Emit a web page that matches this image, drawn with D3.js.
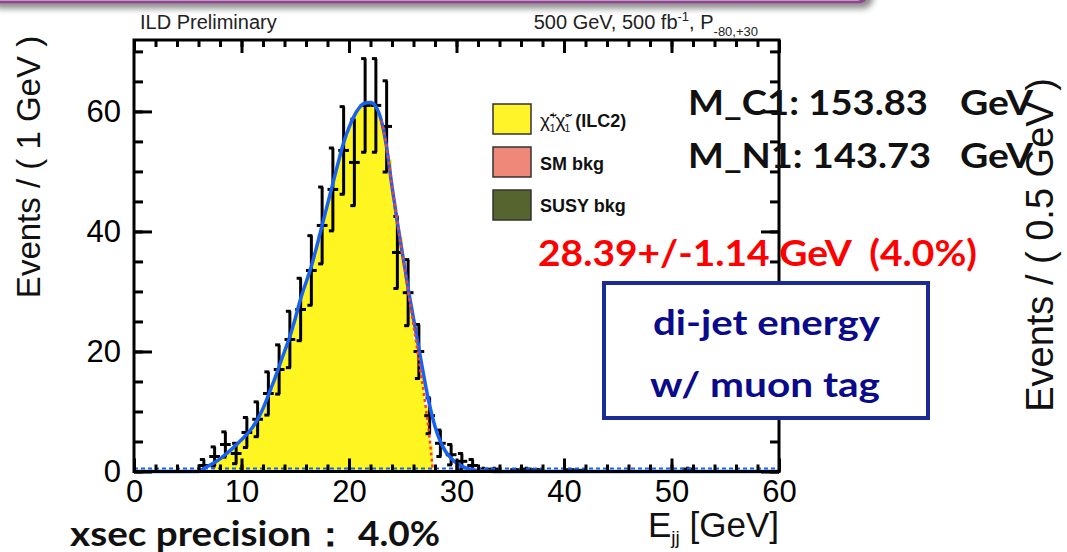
<!DOCTYPE html>
<html><head><meta charset="utf-8">
<script src="https://cdn.jsdelivr.net/npm/d3@7"></script>
<style>
html,body{margin:0;padding:0;background:#fff;}
svg{display:block;}
.tick text{font-family:"Liberation Sans",Arial,sans-serif;}
text{white-space:pre;}
</style></head>
<body>
<svg id="c" width="1067" height="552"></svg>
<script>
// ---------------- data ----------------
const xTicksMajor = [0, 10, 20, 30, 40, 50, 60];
const yTicksMajor = [0, 20, 40, 60];

// data points (1 GeV bins, centres)
const dataE   = [6.5, 7.5, 8.5, 9.5, 10.5, 11.5, 12.5, 13.5, 14.5, 15.5, 16.5, 17.5, 18.5, 19.5, 20.5, 21.5, 22.5, 23.5, 24.5, 25.5, 26.5, 27.5, 28.5, 29.5, 30.5, 31.5, 32.5, 33.5, 35.5, 36.5, 37.5, 40.5, 41.5, 51.5];
const dataN   = [1.0, 2.5, 4.5, 3.0, 6.5, 8.7, 13.0, 17.0, 22.0, 27.0, 33.5, 41.0, 47.0, 53.5, 51.5, 61.0, 61.0, 57.5, 36.5, 29.8, 20.0, 9.3, 4.7, 2.8, 1.7, 1.0, 0.4, 0.4, 0.3, 0.4, 0.3, 0.3, 0.2, 0.4];
const dataErr = [1.0, 1.6, 2.1, 1.7, 2.5, 2.9, 3.6, 4.1, 4.7, 5.2, 5.8, 6.4, 6.9, 7.3, 7.2, 7.8, 7.8, 7.6, 6.0, 5.5, 4.5, 3.0, 2.2, 1.7, 1.3, 1.0, 0.4, 0.4, 0.3, 0.4, 0.3, 0.3, 0.2, 0.4];

// signal MC histogram (yellow), bin edges and contents
const mcEdges = [7.5, 8, 8.5, 9, 9.5, 10, 10.5, 11, 11.5, 12, 12.5, 13, 13.5, 14, 14.5, 15, 15.5, 16, 16.5, 17, 17.5, 18, 18.5, 19, 19.5, 20, 20.5, 21, 21.5, 22, 22.5, 23, 23.5, 24, 24.5, 25, 25.5, 26, 26.5, 27, 27.5, 27.8];
const mcVals  = [1.8, 2.4, 3.1, 3.9, 4.7, 5.6, 6.6, 7.9, 9.5, 11.5, 13.8, 16.2, 18.8, 21.3, 24.0, 27.2, 30.2, 32.8, 36.0, 39.5, 43.0, 46.5, 50.0, 53.2, 56.0, 58.5, 60.2, 61.2, 61.8, 61.2, 59.8, 57.0, 52.0, 44.5, 39.0, 33.0, 27.5, 22.0, 16.5, 11.0, 4.5];

// total fit (blue)
const fitE = [0, 6, 6.5, 7, 7.5, 8, 8.5, 9, 9.5, 10, 10.5, 11, 11.5, 12, 12.5, 13, 13.5, 14, 14.5, 15, 15.5, 16, 16.5, 17, 17.5, 18, 18.5, 19, 19.5, 20, 20.5, 21, 21.5, 22, 22.5, 23, 23.5, 24, 24.5, 25, 25.5, 26, 26.5, 27, 27.5, 28, 28.5, 29, 29.5, 30, 30.5, 31, 31.5, 32, 33, 34, 60];
const fitN = [0, 0, 0.5, 1.0, 1.5, 2.1, 2.8, 3.6, 4.4, 5.3, 6.2, 7.3, 8.7, 10.5, 12.7, 15.0, 17.5, 20.0, 22.5, 25.5, 28.8, 31.5, 34.2, 37.5, 41.0, 44.5, 48.0, 51.5, 54.8, 57.3, 59.3, 60.7, 61.4, 61.5, 60.8, 58.5, 54.0, 47.5, 41.5, 36.0, 30.5, 25.5, 20.5, 15.5, 11.0, 7.5, 5.0, 3.3, 2.2, 1.4, 0.9, 0.5, 0.3, 0.15, 0.05, 0, 0];

// signal component (red dotted)
const sigE = [23, 23.5, 24, 24.5, 25, 25.5, 26, 26.5, 27, 27.3, 27.5, 27.7, 27.8];
const sigN = [58.5, 54.0, 47.5, 41.5, 35.8, 30.0, 24.5, 18.5, 12.5, 8.5, 5.5, 2.0, 0];

// background component (blue dashed, at zero)
const bkgE = [0, 60];
const bkgN = [0, 0];

const legendLabels = ["SM bkg", "SUSY bkg"];

// ---------------- chart ----------------
const svg = d3.select("#c");
const FONT = '"Liberation Sans", Arial, Helvetica, sans-serif';
const CAL = 'Lato, "Open Sans", sans-serif';

const L = 134, R = 779, T = 40, B = 471.5;
const x = d3.scaleLinear().domain([0, 60]).range([L, R]);
const y = d3.scaleLinear().domain([0, 71.9]).range([B, T]);

// top purple banner with shadow
const defs = svg.append("defs");
const f = defs.append("filter").attr("id", "sh").attr("x", "-10%").attr("y", "-50%").attr("width", "130%").attr("height", "200%");
f.append("feDropShadow").attr("dx", 4).attr("dy", 5).attr("stdDeviation", 3).attr("flood-color", "#000").attr("flood-opacity", 0.45);
svg.append("rect").attr("x", -12).attr("y", -40).attr("width", 880).attr("height", 42).attr("rx", 10)
  .attr("fill", "#f3e9f3").attr("stroke", "#8d4a8d").attr("stroke-width", 3).attr("filter", "url(#sh)");

// yellow MC histogram
const mcPts = [];
mcVals.forEach((v, i) => { mcPts.push([mcEdges[i], v]); mcPts.push([mcEdges[i + 1], v]); });
svg.append("path")
  .datum(mcPts)
  .attr("fill", "#fff520")
  .attr("stroke", "none")
  .attr("d", d3.area().x(d => x(d[0])).y0(y(0)).y1(d => y(d[1])));

// data error bars
const g = svg.append("g").attr("stroke", "#000").attr("stroke-width", 3);
dataE.forEach((e, i) => {
  const n = dataN[i], er = dataErr[i];
  g.append("line").attr("x1", x(e)).attr("x2", x(e)).attr("y1", y(Math.max(0, n - er))).attr("y2", y(n + er));
  g.append("line").attr("x1", x(e - 0.5)).attr("x2", x(e + 0.5)).attr("y1", y(n)).attr("y2", y(n));
  if (er > 0.8) {
    g.append("line").attr("x1", x(e) - 4).attr("x2", x(e) + 1).attr("y1", y(n + er)).attr("y2", y(n + er));
    if (n - er > 0) g.append("line").attr("x1", x(e) - 4).attr("x2", x(e) + 1).attr("y1", y(n - er)).attr("y2", y(n - er));
  }
});

// background dashed
svg.append("path").datum(bkgE.map((e, i) => [e, bkgN[i]]))
  .attr("fill", "none").attr("stroke", "#1762f2").attr("stroke-width", 2).attr("stroke-dasharray", "4,3")
  .attr("d", d3.line().x(d => x(d[0])).y(d => y(d[1]) - 3));

// fit line
svg.append("path").datum(fitE.map((e, i) => [e, fitN[i]]))
  .attr("fill", "none").attr("stroke", "#1762f2").attr("stroke-width", 3.5).attr("stroke-linejoin", "round")
  .attr("d", d3.line().curve(d3.curveMonotoneX).x(d => x(d[0])).y(d => y(d[1])));

// signal dotted
svg.append("path").datum(sigE.map((e, i) => [e, sigN[i]]))
  .attr("fill", "none").attr("stroke", "#ff3b30").attr("stroke-width", 2.5).attr("stroke-dasharray", "3,3")
  .attr("d", d3.line().curve(d3.curveMonotoneX).x(d => x(d[0])).y(d => y(d[1])));

// axes (ticks inside)
function styleAxis(sel) {
  sel.select(".domain").remove();
  sel.selectAll(".tick line").attr("stroke", "#000").attr("stroke-width", 3);
  sel.selectAll(".tick text").attr("fill", "#000").style("font-size", "31px").style("font-family", FONT);
}
const xMinor = d3.range(0, 61, 2);
const yMinor = d3.range(0, 71, 5);
svg.append("g").attr("transform", `translate(0,${B})`)
  .call(d3.axisBottom(x).tickValues(xMinor).tickSize(-7).tickFormat("")).call(styleAxis);
svg.append("g").attr("transform", `translate(0,${B})`)
  .call(d3.axisBottom(x).tickValues(xTicksMajor).tickSize(-13).tickPadding(8).tickFormat(d3.format("d"))).call(styleAxis);
svg.append("g").attr("transform", `translate(0,${T})`)
  .call(d3.axisTop(x).tickValues(xMinor).tickSize(-7).tickFormat("")).call(styleAxis);
svg.append("g").attr("transform", `translate(0,${T})`)
  .call(d3.axisTop(x).tickValues(xTicksMajor).tickSize(-13).tickFormat("")).call(styleAxis);
svg.append("g").attr("transform", `translate(${L},0)`)
  .call(d3.axisLeft(y).tickValues(yMinor).tickSize(-9).tickFormat("")).call(styleAxis);
svg.append("g").attr("transform", `translate(${L},0)`)
  .call(d3.axisLeft(y).tickValues(yTicksMajor).tickSize(-18).tickPadding(13).tickFormat(d3.format("d"))).call(styleAxis);
svg.append("g").attr("transform", `translate(${R},0)`)
  .call(d3.axisRight(y).tickValues(yMinor).tickSize(-9).tickFormat("")).call(styleAxis);
svg.append("g").attr("transform", `translate(${R},0)`)
  .call(d3.axisRight(y).tickValues(yTicksMajor).tickSize(-18).tickFormat("")).call(styleAxis);

// frame
svg.append("rect").attr("x", L).attr("y", T).attr("width", R - L).attr("height", B - T)
  .attr("fill", "none").attr("stroke", "#000").attr("stroke-width", 3);

// axis titles
svg.append("text").attr("transform", "translate(40,167) rotate(-90)").attr("text-anchor", "middle")
  .style("font-family", FONT).style("font-size", "33px").attr("fill", "#111").text("Events / ( 1 GeV )");
svg.append("text").attr("transform", "translate(1053,245) rotate(-90)").attr("text-anchor", "middle")
  .style("font-family", FONT).style("font-size", "38px").attr("fill", "#111").text("Events / ( 0.5 GeV )");
const xt = svg.append("text").attr("x", 779).attr("y", 537).attr("text-anchor", "end")
  .style("font-family", FONT).style("font-size", "35px").attr("fill", "#111");
xt.append("tspan").text("E");
xt.append("tspan").attr("dy", 7).style("font-size", "19px").text("jj");
xt.append("tspan").attr("dy", -7).text(" [GeV]");

// header
svg.append("text").attr("x", 140).attr("y", 29).style("font-family", FONT).style("font-size", "20px").attr("fill", "#222").text("ILD Preliminary");
const hd = svg.append("text").attr("x", 758).attr("y", 29).attr("text-anchor", "end")
  .style("font-family", FONT).style("font-size", "20px").attr("fill", "#222");
hd.append("tspan").text("500 GeV, 500 fb");
hd.append("tspan").attr("dy", -8).style("font-size", "13px").text("-1");
hd.append("tspan").attr("dy", 8).text(", P");
hd.append("tspan").attr("dy", 7).style("font-size", "13px").text("-80,+30");

// legend
const legColors = ["#fff32a", "#f0887a", "#566530"];
const legY = [104, 147, 190];
legColors.forEach((c, i) => {
  svg.append("rect").attr("x", 493).attr("y", legY[i]).attr("width", 38).attr("height", 30)
    .attr("fill", c).attr("stroke", "#333").attr("stroke-width", 1.5);
});
const l0 = svg.append("text").attr("x", 540).attr("y", 127).style("font-family", FONT).style("font-size", "19px").attr("fill", "#111");
l0.append("tspan").text("\u03C7\u0303");
l0.append("tspan").attr("dy", -8).style("font-size", "11px").text("+");
l0.append("tspan").attr("dx", -7).attr("dy", 13).style("font-size", "11px").text("1");
l0.append("tspan").attr("dy", -5).text("\u03C7\u0303");
l0.append("tspan").attr("dy", -8).style("font-size", "11px").text("-");
l0.append("tspan").attr("dx", -5).attr("dy", 13).style("font-size", "11px").text("1");
l0.append("tspan").attr("dy", -5).style("font-weight", "bold").style("font-size", "18px").text(" (ILC2)");
legendLabels.forEach((t, i) => {
  svg.append("text").attr("x", 540).attr("y", [170, 212][i]).style("font-family", FONT)
    .style("font-size", "18px").style("font-weight", "bold").attr("fill", "#111").text(t);
});

// overlay annotations
function cal(txt, xx, yy, size, len, color) {
  svg.append("text").attr("x", xx).attr("y", yy).style("font-family", CAL).style("font-weight", "bold")
    .style("font-size", size + "px").attr("fill", color).attr("textLength", len).attr("lengthAdjust", "spacingAndGlyphs").text(txt);
}
cal("M_C1: 153.83", 688, 115, 35, 240, "#111");
cal("GeV", 960, 115, 35, 73, "#111");
cal("M_N1: 143.73", 688, 168, 35, 243, "#111");
cal("GeV", 960, 168, 35, 73, "#111");
cal("28.39+/-1.14 GeV  (4.0%)", 538, 266, 37, 439, "#ff0000");

svg.append("rect").attr("x", 604).attr("y", 283).attr("width", 324).attr("height", 135)
  .attr("fill", "#fff").attr("stroke", "#1b2b94").attr("stroke-width", 4);
cal("di-jet energy", 653, 335, 35, 227, "#0a0a8a");
cal("w/ muon tag", 650, 397, 35, 230, "#0a0a8a");

cal("xsec precision\uFF1A", 70, 546, 34, 280, "#111");
cal("4.0%", 358, 546, 34, 82, "#111");
</script>
</body></html>
